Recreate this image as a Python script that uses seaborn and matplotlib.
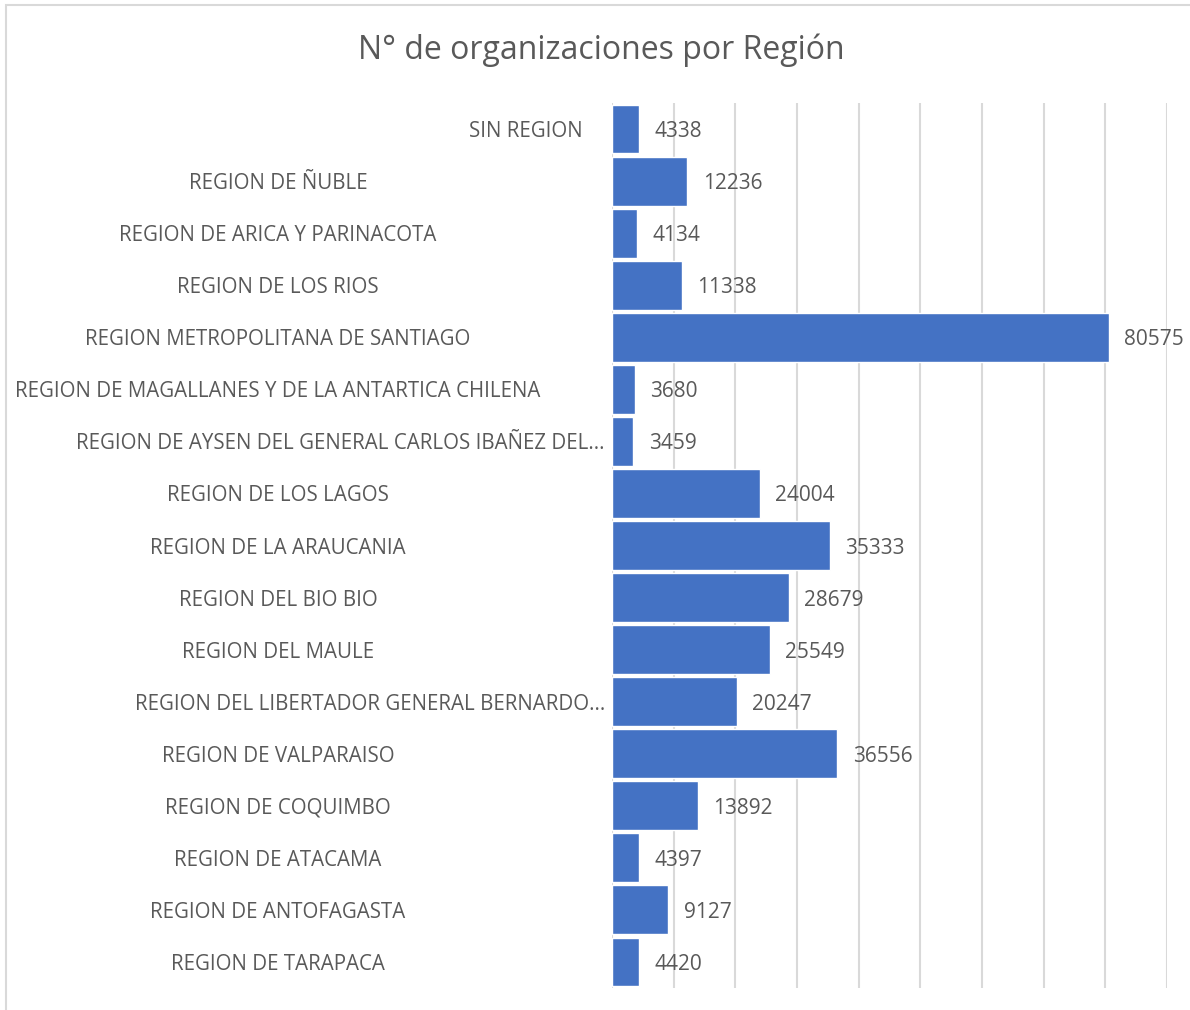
import matplotlib
matplotlib.use("Agg")
import matplotlib.pyplot as plt
import matplotlib.patches as mpatches
import pandas as pd
import seaborn as sns

# data (top to bottom)
regions = [
    "SIN REGION",
    "REGION DE ÑUBLE",
    "REGION DE ARICA Y PARINACOTA",
    "REGION DE LOS RIOS",
    "REGION METROPOLITANA DE SANTIAGO",
    "REGION DE MAGALLANES Y DE LA ANTARTICA CHILENA",
    "REGION DE AYSEN DEL GENERAL CARLOS IBAÑEZ DEL...",
    "REGION DE LOS LAGOS",
    "REGION DE LA ARAUCANIA",
    "REGION DEL BIO BIO",
    "REGION DEL MAULE",
    "REGION DEL LIBERTADOR GENERAL BERNARDO...",
    "REGION DE VALPARAISO",
    "REGION DE COQUIMBO",
    "REGION DE ATACAMA",
    "REGION DE ANTOFAGASTA",
    "REGION DE TARAPACA",
]
counts = [4338, 12236, 4134, 11338, 80575, 3680, 3459, 24004, 35333,
          28679, 25549, 20247, 36556, 13892, 4397, 9127, 4420]
title = "N° de organizaciones por Región"

sns.set_theme(style="white")
plt.rcParams['font.family'] = ['Open Sans', 'DejaVu Sans']

TEXT = "#595959"
BAR = "#4472C4"
GRID = "#D9D9D9"

df = pd.DataFrame({"region": regions, "count": counts})

fig = plt.figure(figsize=(11.9, 10.1), dpi=100)
ax = fig.add_axes([612 / 1190, 1 - 988 / 1010, 555 / 1190, 885 / 1010])

sns.barplot(data=df, y="region", x="count", orient="h", color=BAR,
            saturation=1, width=0.94, ax=ax)

ax.set_xlim(0, 90000)
ax.set_xticks(range(0, 90001, 10000))
ax.set_xticklabels([])
ax.tick_params(axis="x", length=0)
ax.xaxis.grid(True, color=GRID, linewidth=1.5)
ax.set_axisbelow(True)
for s in ax.spines.values():
    s.set_visible(False)
ax.set_xlabel("")
ax.set_ylabel("")

ax.tick_params(axis="y", length=0, pad=0, labelsize=14.8, labelcolor=TEXT)
for lbl in ax.get_yticklabels():
    txt = lbl.get_text()
    if txt.endswith("..."):
        lbl.set_horizontalalignment("right")
        lbl.set_x(-7 / 555)
    elif txt == "SIN REGION":
        lbl.set_horizontalalignment("center")
        lbl.set_x((526 - 612) / 555)
    else:
        lbl.set_horizontalalignment("center")
        lbl.set_x((278 - 612) / 555)

vals = ax.bar_label(ax.containers[0], labels=[str(v) for v in counts],
                    padding=11, color=TEXT, fontsize=15)
for t in vals:
    t.set_va("center_baseline")

fig.text(601 / 1190, 1 - 50 / 1010, title, ha="center", va="center",
         fontsize=23, color=TEXT)

# chart frame (only top and left edges are inside the picture)
fig.patches.append(mpatches.Rectangle((6 / 1190, -0.1), 1.2, 1.1 - 5 / 1010,
                                      transform=fig.transFigure, fill=False,
                                      edgecolor=GRID, linewidth=1.5))

fig.savefig("out.png", dpi=100)
